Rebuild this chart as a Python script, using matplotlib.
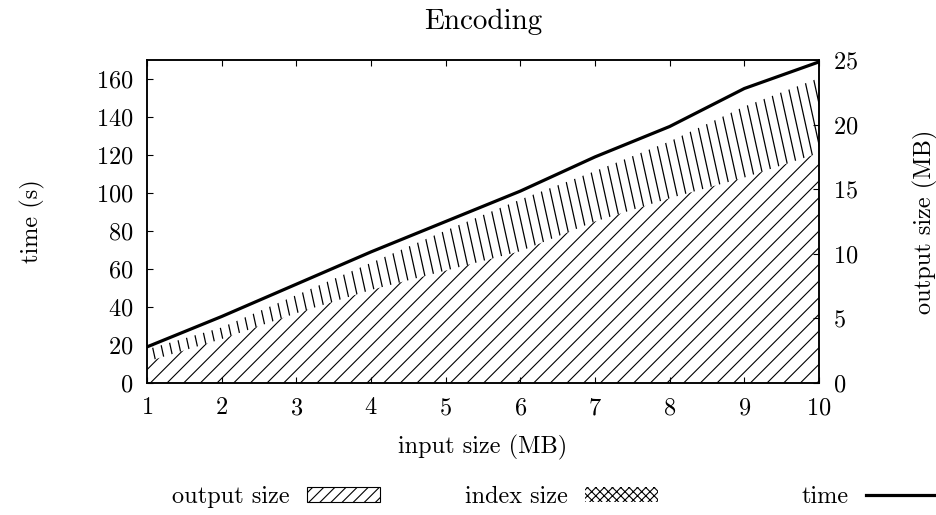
import numpy as np
import matplotlib
matplotlib.use("Agg")
import matplotlib.pyplot as plt
from matplotlib.collections import LineCollection
from matplotlib.patches import Patch
from matplotlib.lines import Line2D

# data
input_mb = [1, 2, 3, 4, 5, 6, 7, 8, 9, 10]
time_s = [19, 35, 52, 69, 85, 101, 119, 135, 155, 169]
output_mb = [1.65, 3.4, 5.4, 7.2, 8.7, 10.2, 12.5, 14.3, 15.9, 17.8]
index_mb = [0.95, 0.9, 1.4, 2.1, 3.1, 4.0, 3.9, 4.4, 5.5, 5.8]

time_ticks = [0, 20, 40, 60, 80, 100, 120, 140, 160]
size_ticks = [0, 5, 10, 15, 20, 25]

plt.rcParams['font.family'] = ['cmr10', 'DejaVu Serif']
plt.rcParams['axes.formatter.use_mathtext'] = True
plt.rcParams['font.size'] = 17.5
plt.rcParams['hatch.linewidth'] = 0.8

fig = plt.figure(figsize=(9.36, 5.15), dpi=100)
ax = fig.add_axes([147 / 936, 1 - 383 / 515, 672 / 936, 323 / 515])
ax2 = ax.twinx()
ax.set_zorder(ax2.get_zorder() + 1)
ax.patch.set_visible(False)

x = np.array(input_mb)
out = np.array(output_mb)
top = out + np.array(index_mb)

# output size: plain "/" hatch
ax2.fill_between(x, 0, out, facecolor='none', edgecolor='black',
                 linewidth=0, hatch='//')

# index size: steep "\" hatch lines clipped to the stacked band
band = ax2.fill_between(x, out, top, facecolor='none', linewidth=0)
step = 9 / 672
lean = 0.22 * 323 / 672
starts = np.arange(-0.3, 1.1, step)
segs = [[(s, 1), (s + lean, 0)] for s in starts]
lc = LineCollection(segs, colors='black', linewidths=0.9,
                    transform=ax2.transAxes)
lc.set_clip_path(band.get_paths()[0], ax2.transData)
ax2.add_collection(lc)

# time line
ax.plot(x, time_s, color='black', linewidth=2.3, solid_joinstyle='miter')

ax.set_xlim(1, 10)
ax.set_ylim(0, 170)
ax2.set_ylim(0, 25)
ax.set_xticks(input_mb)
ax.set_yticks(time_ticks)
ax2.set_yticks(size_ticks)

for a in (ax, ax2):
    for sp in a.spines.values():
        sp.set_linewidth(1.1)
ax.tick_params(axis='x', direction='in', length=4.5, width=0.8, pad=10,
               top=True)
ax.tick_params(axis='y', direction='in', length=4.5, width=0.8, pad=10,
               right=False)
ax2.tick_params(axis='y', direction='in', length=4.5, width=0.8, pad=10)

ax.set_title('Encoding', y=1.118, va='center', pad=0)
ax.set_xlabel('input size (MB)')
ax.xaxis.set_label_coords(0.5, -0.198)
ax.xaxis.label.set_verticalalignment('center')
ax.set_ylabel('time (s)')
ax.yaxis.set_label_coords(-0.17, 0.5)
ax.yaxis.label.set_verticalalignment('center')
ax2.set_ylabel('output size (MB)', rotation=90)
ax2.yaxis.set_label_coords(1.158, 0.5)
ax2.yaxis.label.set_verticalalignment('center')

# key along the bottom, text before sample
keys = [
    (Patch(facecolor='white', edgecolor='black', linewidth=0.8, hatch='///'),
     'output size', 172, 3.0),
    (Patch(facecolor='white', edgecolor='black', linewidth=0,
           hatch='xxxx'),
     'index size', 465, 3.0),
    (Line2D([], [], color='black', linewidth=2.3),
     'time', 802, 4.0),
]
for handle, label, px, hl in keys:
    leg = fig.legend([handle], [label], loc='center left',
                     bbox_to_anchor=(px / 936, 1 - 497 / 515),
                     frameon=False, markerfirst=False, borderpad=0,
                     borderaxespad=0, handlelength=hl, handletextpad=0.7,
                     handleheight=0.6)

fig.savefig('out.png', dpi=100)
